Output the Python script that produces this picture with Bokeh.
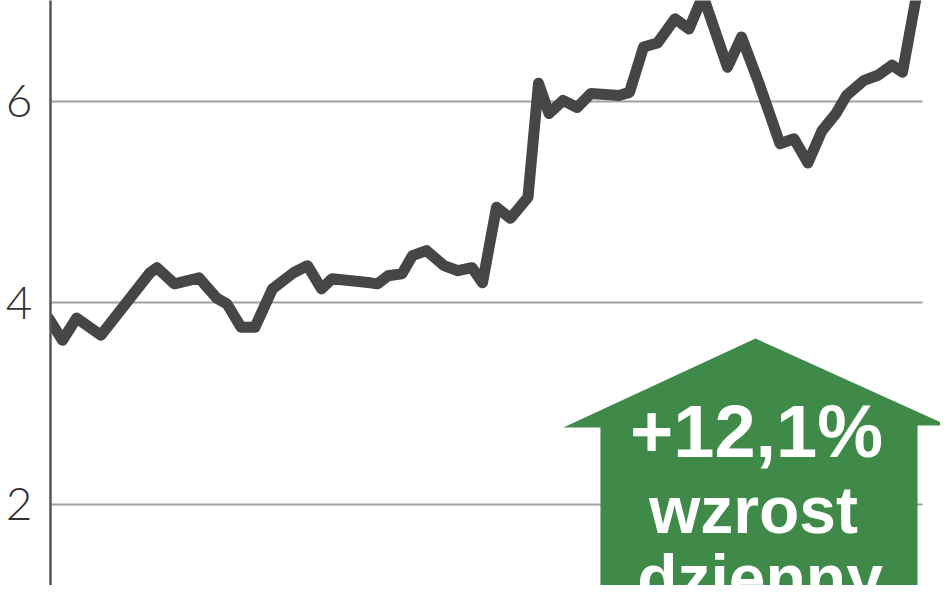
from bokeh.plotting import figure
from bokeh.models import Range1d, FixedTicker, Label
from bokeh.embed import file_html
from bokeh.resources import INLINE

# trading day index and closing price (PLN)
days = [0, 4, 8, 15, 29, 31, 36, 43, 48, 51, 55, 59, 64, 70, 74, 78, 81, 92, 94, 97,
        101, 104, 108, 113, 117, 121, 124, 128, 132, 137, 140, 143, 147, 151, 155, 163,
        166, 170, 174, 179, 183, 187, 194, 198, 203, 209, 213, 217, 221, 225, 228, 233,
        237, 241, 244, 248]
prices = [3.85, 3.63, 3.85, 3.68, 4.30, 4.35, 4.19, 4.25, 4.05, 3.99, 3.76, 3.76, 4.14,
          4.30, 4.37, 4.14, 4.24, 4.20, 4.19, 4.27, 4.29, 4.47, 4.52, 4.37, 4.32, 4.35,
          4.20, 4.95, 4.84, 5.05, 6.18, 5.88, 6.01, 5.94, 6.08, 6.06, 6.09, 6.54, 6.58,
          6.82, 6.72, 7.05, 6.34, 6.64, 6.18, 5.58, 5.63, 5.39, 5.71, 5.88, 6.06, 6.21,
          6.26, 6.36, 6.29, 7.05]
y_ticks = [2, 4, 6]
badge_lines = ["+12,1%", "wzrost", "dzienny"]

p = figure(width=940, height=585, output_backend="svg", toolbar_location=None,
           x_range=Range1d(0.571, 254.86), y_range=Range1d(1.196, 7.002),
           x_axis_location=None,
           min_border_left=50, min_border_right=0, min_border_top=0, min_border_bottom=0)
p.outline_line_color = None
p.background_fill_color = "white"
p.border_fill_color = "white"
p.xgrid.visible = False

yax = p.yaxis[0]
yax.ticker = FixedTicker(ticks=y_ticks)
yax.axis_line_color = "#555555"
yax.axis_line_width = 2.5
yax.major_tick_line_color = None
yax.minor_tick_line_color = None
yax.major_tick_out = 0
yax.major_tick_in = 0
yax.major_label_standoff = 18
yax.major_label_text_font = "Lato Light"
yax.major_label_text_font_size = "46px"
yax.major_label_text_color = "#333333"

g = p.ygrid[0]
g.ticker = FixedTicker(ticks=y_ticks)
g.grid_line_color = "#a0a0a0"
g.grid_line_width = 2
if "cross_bounds" in g.properties():
    g.cross_bounds = (0.571, 249.7)

p.line(days, prices, line_color="#464646", line_width=11,
       line_join="round", line_cap="round")

# green "up" arrow badge
p.patch([157.7, 157.7, 147.1, 202.0, 256.9, 248.3, 248.3],
        [1.0, 2.764, 2.764, 3.648, 2.784, 2.784, 1.0],
        fill_color="#3f8949", line_color=None)

badge_font = "Liberation Sans"
for txt, x, y, size in zip(badge_lines, [202.3, 201.4, 203.3], [2.725, 1.950, 1.275],
                           ["74px", "66px", "66px"]):
    p.add_layout(Label(x=x, y=y, text=txt, text_align="center", text_baseline="alphabetic",
                       text_font=badge_font, text_font_style="bold",
                       text_font_size=size, text_color="white"))

open("out.html", "w").write(file_html(p, INLINE))
